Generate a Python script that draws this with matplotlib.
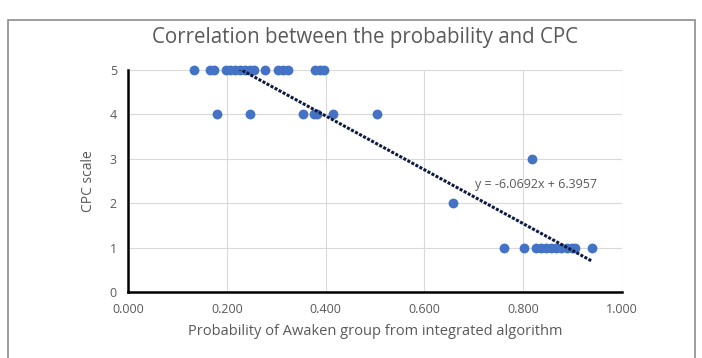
import matplotlib
matplotlib.use('Agg')

import matplotlib.pyplot as plt
import numpy as np
from matplotlib.patches import Rectangle

# probability values, grouped by CPC score
x_cpc5 = [0.134, 0.166, 0.174, 0.198, 0.206, 0.217, 0.227, 0.237, 0.247, 0.255,
          0.277, 0.304, 0.314, 0.324, 0.379, 0.389, 0.397]
x_cpc4 = [0.180, 0.247, 0.354, 0.377, 0.383, 0.415, 0.504]
x_cpc3 = [0.818]
x_cpc2 = [0.657]
x_cpc1 = [0.761, 0.801, 0.826, 0.836, 0.846, 0.856, 0.866, 0.876, 0.888, 0.898, 0.905, 0.939]

slope = -6.0692
intercept = 6.3957

x_ticks = [0.0, 0.2, 0.4, 0.6, 0.8, 1.0]
y_ticks = [0, 1, 2, 3, 4, 5]

xs = x_cpc5 + x_cpc4 + x_cpc3 + x_cpc2 + x_cpc1
ys = [5] * len(x_cpc5) + [4] * len(x_cpc4) + [3] * len(x_cpc3) + [2] * len(x_cpc2) + [1] * len(x_cpc1)

plt.rcParams['font.family'] = ['Open Sans', 'DejaVu Sans']
grey = '#595959'

fig = plt.figure(figsize=(7.02, 3.58), dpi=100)
ax = fig.add_axes([0.1823, 0.1844, 0.7037, 0.620])

# outer chart frame
fig.patches.append(Rectangle((8 / 702, -0.05), 687 / 702, (358 - 20) / 358 + 0.05,
                             transform=fig.transFigure, fill=False,
                             edgecolor='#8c8c8c', linewidth=1.2))

ax.scatter(xs, ys, s=50, color='#4472C4', zorder=3, clip_on=False, linewidths=0)

# linear trendline, clipped to the axis range
tx = np.linspace(min(xs), max(xs), 200)
ty = slope * tx + intercept
ax.plot(tx, ty, color='#0d1b3e', linestyle=(0, (1.0, 0.5)), linewidth=2.2, zorder=4)
ax.text(0.702, 2.43, 'y = -6.0692x + 6.3957', color=grey, fontsize=9, va='center')

ax.set_xlim(0, 1.0)
ax.set_ylim(0, 5)
ax.set_xticks(x_ticks)
ax.set_xticklabels([f'{v:.3f}' for v in x_ticks])
ax.set_yticks(y_ticks)
ax.grid(True, color='#d9d9d9', linewidth=0.8, zorder=0)
ax.set_axisbelow(True)

for side in ['top', 'right']:
    ax.spines[side].set_visible(False)
for side in ['left', 'bottom']:
    ax.spines[side].set_color('black')
    ax.spines[side].set_linewidth(1.8)
ax.tick_params(length=0, colors=grey, labelsize=9, pad=8)

fig.text(365 / 702, 1 - 37 / 358, 'Correlation between the probability and CPC',
         color=grey, fontsize=14.8, ha='center', va='center')
ax.set_xlabel('Probability of Awaken group from integrated algorithm', color=grey, fontsize=10.5, labelpad=6)
ax.set_ylabel('CPC scale', color=grey, fontsize=10, labelpad=10)

fig.savefig('out.png', dpi=100)
